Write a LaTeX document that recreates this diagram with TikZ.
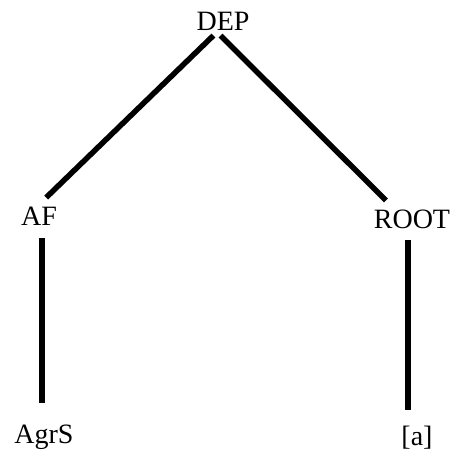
\documentclass[tikz,border=0pt]{standalone}
\usepackage{fontspec}
\setmainfont{Liberation Serif}
\usepackage{tikz}
\tikzset{lbl/.style={inner sep=2pt, outer sep=0pt, anchor=base, font=\fontsize{28}{30}\selectfont}}
\tikzset{branch/.style={color=black,line width=5.5}}

\begin{document}
\begin{tikzpicture}[x=1pt,y=-1pt]
  \useasboundingbox (0,0) rectangle (456,453);
  \node[lbl] (dep) at (223,30) {DEP};
  \node[lbl] (af) at (39,225) {AF};
  \node[lbl] (root) at (412,228) {ROOT};
  \node[lbl] (agrs) at (44,443) {AgrS};
  \node[lbl] (a) at (417,445) {[a]};

  \draw[branch, shorten <=5, shorten >=10] ([xshift=-6pt]dep.south) -- (af.north);
  \draw[branch, shorten <=5, shorten >=10] ([xshift=-6pt]dep.south) -- ([xshift=-19pt]root.north);

  \draw[branch, shorten <=11, shorten >=19] ([xshift=3pt]af.south) -- ([xshift=3pt]af.south |- agrs.north);
  \draw[branch, shorten <=10, shorten >=14] ([xshift=-4pt]root.south) -- ([xshift=-4pt]root.south |- a.north);
\end{tikzpicture}
\end{document}
